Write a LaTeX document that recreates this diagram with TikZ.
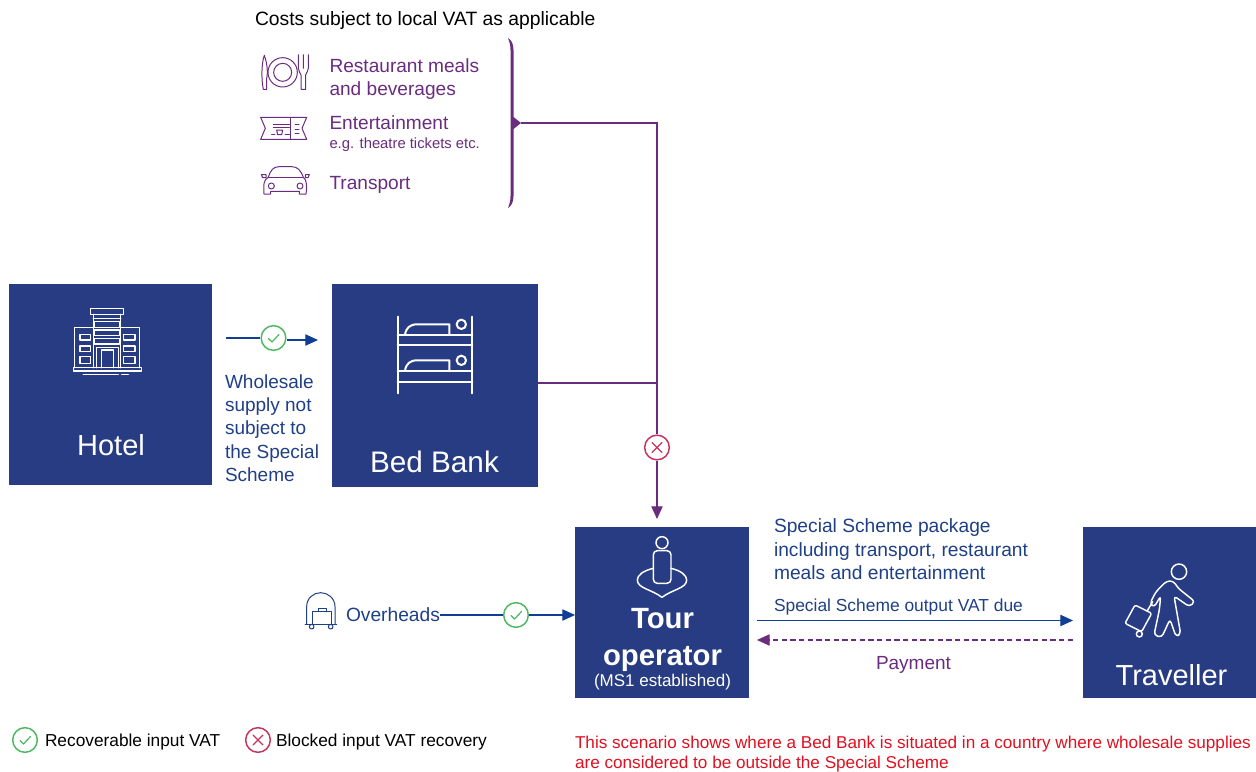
\documentclass[tikz,border=0pt]{standalone}
\usepackage{fontspec}
\setmainfont{Liberation Sans}
\usetikzlibrary{arrows.meta,calc}
\definecolor{boxblue}{HTML}{273C82}
\definecolor{navy}{HTML}{1F3F86}
\definecolor{arrowblue}{HTML}{0F3E94}
\definecolor{plum}{HTML}{6A2C7E}
\definecolor{okgreen}{HTML}{4DB860}
\definecolor{nored}{HTML}{C7325F}
\definecolor{notered}{HTML}{E01020}
\newcommand{\szpx}[2]{\fontsize{\dimexpr #1pt*3/4\relax}{\dimexpr #2pt*3/4\relax}\selectfont}
\tikzset{
  x=0.75pt,y=-0.75pt,
  bluebox/.style={fill=boxblue,inner sep=0pt,outer sep=0pt},
  txt/.style={inner sep=0pt,outer sep=0pt,anchor=west,align=left},
  boxlabel/.style={inner sep=0pt,outer sep=0pt,text=white,align=center},
  whiteicon/.style={draw=white,line width=1.1pt,line join=round,line cap=round},
  plumicon/.style={draw=plum,line width=0.75pt,line join=round,line cap=round},
  navyicon/.style={draw=navy,line width=0.75pt,line join=round,line cap=round},
  badge/.style={circle,draw,line width=1.1pt,fill=white,inner sep=0pt,minimum size=18.5pt,outer sep=0.8pt},
  okbadge/.style={badge,draw=okgreen},
  nobadge/.style={badge,draw=nored},
  blueflow/.style={draw=arrowblue,line width=0.8pt},
  plumflow/.style={draw=plum,line width=0.8pt},
  tip/.style={-{Triangle[length=9.5pt,width=8.5pt]}},
}
\newcommand{\okmark}[1]{\draw[okgreen,line width=0.9pt,line cap=round,line join=round] ($(#1)+(-5,0.5)$) -- ($(#1)+(-1.5,4)$) -- ($(#1)+(5.5,-3.5)$);}
\newcommand{\nomark}[1]{\draw[nored,line width=0.9pt,line cap=round] ($(#1)+(-5,-5)$) -- ($(#1)+(5,5)$) ($(#1)+(-5,5)$) -- ($(#1)+(5,-5)$);}
\begin{document}
\begin{tikzpicture}
\useasboundingbox (0,0) rectangle (1256,771);
% boxes
\node[bluebox,minimum width=152.25pt,minimum height=151pt] (hotel) at (110.5,384.5) {};
\node[bluebox,minimum width=154.5pt,minimum height=152.25pt] (bed) at (435,385.5) {};
\node[bluebox,minimum width=130.5pt,minimum height=128.25pt] (tour) at (662,612.5) {};
\node[bluebox,minimum width=129.75pt,minimum height=128.25pt] (trav) at (1169.5,612.5) {};
% box labels
\node[boxlabel,font=\szpx{29}{34}] (hotellab) at (111,445) {Hotel};
\node[boxlabel,font=\szpx{29.7}{34}] (bedlab) at (434.5,462) {Bed Bank};
\node[boxlabel,font=\bfseries\szpx{29.3}{37}] (tourlab) at (662.5,640) {Tour\\operator};
\node[boxlabel,font=\szpx{17}{19}] (tourlab2) at (662.5,682) {(MS1 established)};
\node[boxlabel,font=\szpx{29}{34}] (travlab) at (1171.5,675) {Traveller};
% top texts
\node[txt,font=\szpx{19.3}{22}] (costs) at (255,21) {Costs subject to local VAT as applicable};
\node[txt,text=plum,font=\szpx{19.1}{23}] (rest) at (329.5,79) {Restaurant meals\\and beverages};
\node[txt,text=plum,font=\szpx{19.1}{23}] (ent) at (329.5,123) {Entertainment};
\node[txt,text=plum,font=\szpx{14.8}{17}] (eg) at (329.5,145) {e.g. theatre tickets etc.};
\node[txt,text=plum,font=\szpx{19.1}{23}] (transp) at (329.5,185) {Transport};
% other texts
\node[txt,text=navy,font=\szpx{19}{23.3}] (whole) at (225,428) {Wholesale\\supply not\\subject to\\the Special\\Scheme};
\node[txt,text=navy,font=\szpx{19.2}{23}] (over) at (346,614.5) {Overheads};
\node[txt,text=navy,font=\szpx{19.2}{23.5}] (pack) at (774,549.5) {Special Scheme package\\including transport, restaurant\\meals and entertainment};
\node[txt,text=navy,font=\szpx{17.4}{20}] (due) at (774,607) {Special Scheme output VAT due};
\node[txt,text=plum,font=\szpx{19}{23}] (pay) at (876,665) {Payment};
\node[txt,font=\szpx{17.3}{20}] (leg1) at (45,742) {Recoverable input VAT};
\node[txt,font=\szpx{17.3}{20}] (leg2) at (276,742) {Blocked input VAT recovery};
\node[txt,text=notered,font=\szpx{17.15}{20.5}] (note) at (575,754) {This scenario shows where a Bed Bank is situated in a country where wholesale supplies\\are considered to be outside the Special Scheme};
% badges
\node[okbadge] (hok) at (273.5,338) {};
\node[okbadge] (ook) at (516,615) {};
\node[nobadge] (xno) at (657,447.5) {};
\node[okbadge] (lok) at (25,740) {};
\node[nobadge] (lno) at (258,740) {};
\okmark{hok}\okmark{ook}\okmark{lok}
\nomark{xno}\nomark{lno}
% connector coordinates
\coordinate (hstart) at (226,338);
\coordinate (hend) at (318,340);
\coordinate (bracetip) at (521,123);
\coordinate (junction) at (657,383);
\coordinate (tourin) at (657,519);
\coordinate (tvout) at (757,620.5);
\coordinate (tvin) at (1073,620.5);
\coordinate (payout) at (1073,640);
\coordinate (payin) at (757,640);
% connectors
\draw[blueflow] (hstart) -- (hok.west);
\draw[blueflow,tip] (hok.east |- hend) -- (hend);
\draw[blueflow] (over.east |- ook.west) -- (ook.west);
\draw[blueflow,tip] (ook.east) -- (tour.west |- ook.east);
\draw[blueflow,tip] (tvout) -- (tvin);
\draw[plumflow,dash pattern=on 4pt off 2.5pt,tip] (payout) -- (payin);
\draw[plumflow] (bracetip) -| (xno.north);
\draw[plumflow] (bed.east |- junction) -- (junction);
\draw[plumflow,tip] (xno.south) -- (tourin);
% brace
\fill[plum] (508,38) .. controls (511,40) and (513.5,43) .. (513.5,50) -- (513.5,117) -- (521,123) -- (513.5,129) -- (513.5,196) .. controls (513.5,203) and (511,206) .. (508,208) .. controls (509.5,204) and (510.5,201) .. (510.5,196) -- (510.5,50) .. controls (510.5,45) and (509.5,42) .. (508,38) -- cycle;
% hotel icon
\begin{scope}[shift={(0,275)},scale=1/3,whiteicon]
\draw (272,100) rectangle (370,118);
\draw (280,118) -- (280,278) (362,118) -- (362,278) (280,130) -- (362,130);
\draw (282,140) rectangle (358,157) (282,165) rectangle (358,182) (282,190) rectangle (358,207);
\draw (224,278) -- (224,158) -- (280,158) (362,158) -- (418,158) -- (418,278);
\draw (240,178) rectangle (272,195) (240,213) rectangle (272,230) (240,245) rectangle (272,265);
\draw (370,178) rectangle (405,195) (370,213) rectangle (405,230) (370,245) rectangle (405,265);
\draw (290,278) -- (290,218) -- (355,218) -- (355,278) (305,278) -- (305,225) -- (340,225) -- (340,278);
\draw (220,278) -- (424,278) -- (424,288) -- (220,288) -- cycle;
\draw (250,298) -- (355,298) (365,298) -- (385,298);
\end{scope}
% bunk bed icon
\begin{scope}[shift={(330,285)},scale=1/3,whiteicon,line width=1.5pt]
\draw (203,95) -- (203,325) (427,95) -- (427,325);
\draw (203,150) -- (427,150) (203,180) -- (427,180) (203,258) -- (427,258) (203,292) -- (427,292);
\draw (225,150) .. controls (228,128) and (240,118) .. (262,118) -- (358,118) -- (358,150);
\draw (225,258) .. controls (228,236) and (240,226) .. (262,226) -- (358,226) -- (358,258);
\draw (394,118) circle[radius=14] (394,226) circle[radius=14];
\end{scope}
% tour operator icon
\begin{scope}[shift={(290,520)},scale=1/3,whiteicon]
\draw (1116,68) circle[radius=18];
\draw[rounded corners=3pt] (1090,92) rectangle (1143,190);
\draw (1090,145) .. controls (1060,152) and (1042,165) .. (1042,180) .. controls (1042,205) and (1085,208) .. (1116,232) .. controls (1147,208) and (1190,205) .. (1190,180) .. controls (1190,165) and (1172,152) .. (1143,145);
\end{scope}
% traveller icon
\begin{scope}[shift={(1070,520)},scale=1/3,whiteicon]
\draw (327,155) circle[radius=23];
\draw[rounded corners=2.5pt] (290,183) -- (258,215) -- (240,250) -- (252,262) -- (272,228) -- (268,270) -- (252,345) -- (275,352) -- (300,298) -- (318,350) -- (332,342) -- (312,228) -- (358,260) -- (375,245) -- (325,205) -- (310,183) -- cycle;
\draw[rounded corners=1.5pt] (195,255) -- (245,280) -- (215,335) -- (165,310) -- cycle;
\draw (208,342) circle[radius=9];
\draw (232,272) -- (248,245);
\end{scope}
% overheads icon
\begin{scope}[shift={(290,520)},scale=1/3,navyicon]
\draw (50,312) -- (50,260) .. controls (50,235) and (70,218) .. (92,218) .. controls (114,218) and (135,235) .. (135,260) -- (135,312);
\draw (45,312) -- (140,312);
\draw (68,312) -- (68,275) -- (125,275) -- (125,312) (85,275) -- (85,266) -- (108,266) -- (108,275);
\draw (65,320) circle[radius=7] (122,320) circle[radius=7];
\end{scope}
% restaurant, ticket, car icons
\begin{scope}[shift={(240,30)},scale=1/3,plumicon]
\draw (70,178) .. controls (64,150) and (64,100) .. (73,76) .. controls (82,100) and (84,130) .. (80,145) -- (80,178) -- cycle;
\draw (128,127) circle[radius=44] (128,127) circle[radius=27];
\draw (175,74) -- (175,115) .. controls (175,125) and (182,128) .. (183,135) -- (183,178) -- (197,178) -- (197,135) .. controls (198,128) and (205,125) .. (205,115) -- (205,74) (190,74) -- (190,115);
\draw (62,262) -- (200,262) -- (186,295) -- (200,328) -- (62,328) -- (76,295) -- cycle;
\draw (152,262) -- (152,328);
\draw (100,283) -- (148,283) (100,292) -- (148,292) (95,314) -- (105,314) (135,314) -- (148,314);
\draw (110,300) -- (128,300) -- (125,314) -- (113,314) -- cycle;
\draw (165,283) -- (177,283) (165,297) -- (177,297) (165,310) -- (177,310);
\draw (85,442) .. controls (92,420) and (100,410) .. (118,410) -- (155,410) .. controls (172,410) and (182,420) .. (190,442);
\draw (85,442) -- (190,442);
\draw (85,442) .. controls (72,448) and (70,460) .. (72,492) -- (92,492) -- (92,484) -- (178,484) -- (178,492) -- (198,492) .. controls (202,460) and (198,448) .. (190,442);
\draw (64,434) -- (78,434) -- (78,443) -- (68,443) -- cycle (196,434) -- (208,434) -- (204,443) -- (196,443) -- cycle;
\draw (94,468) circle[radius=9] (180,468) circle[radius=9];
\end{scope}
\end{tikzpicture}
\end{document}
